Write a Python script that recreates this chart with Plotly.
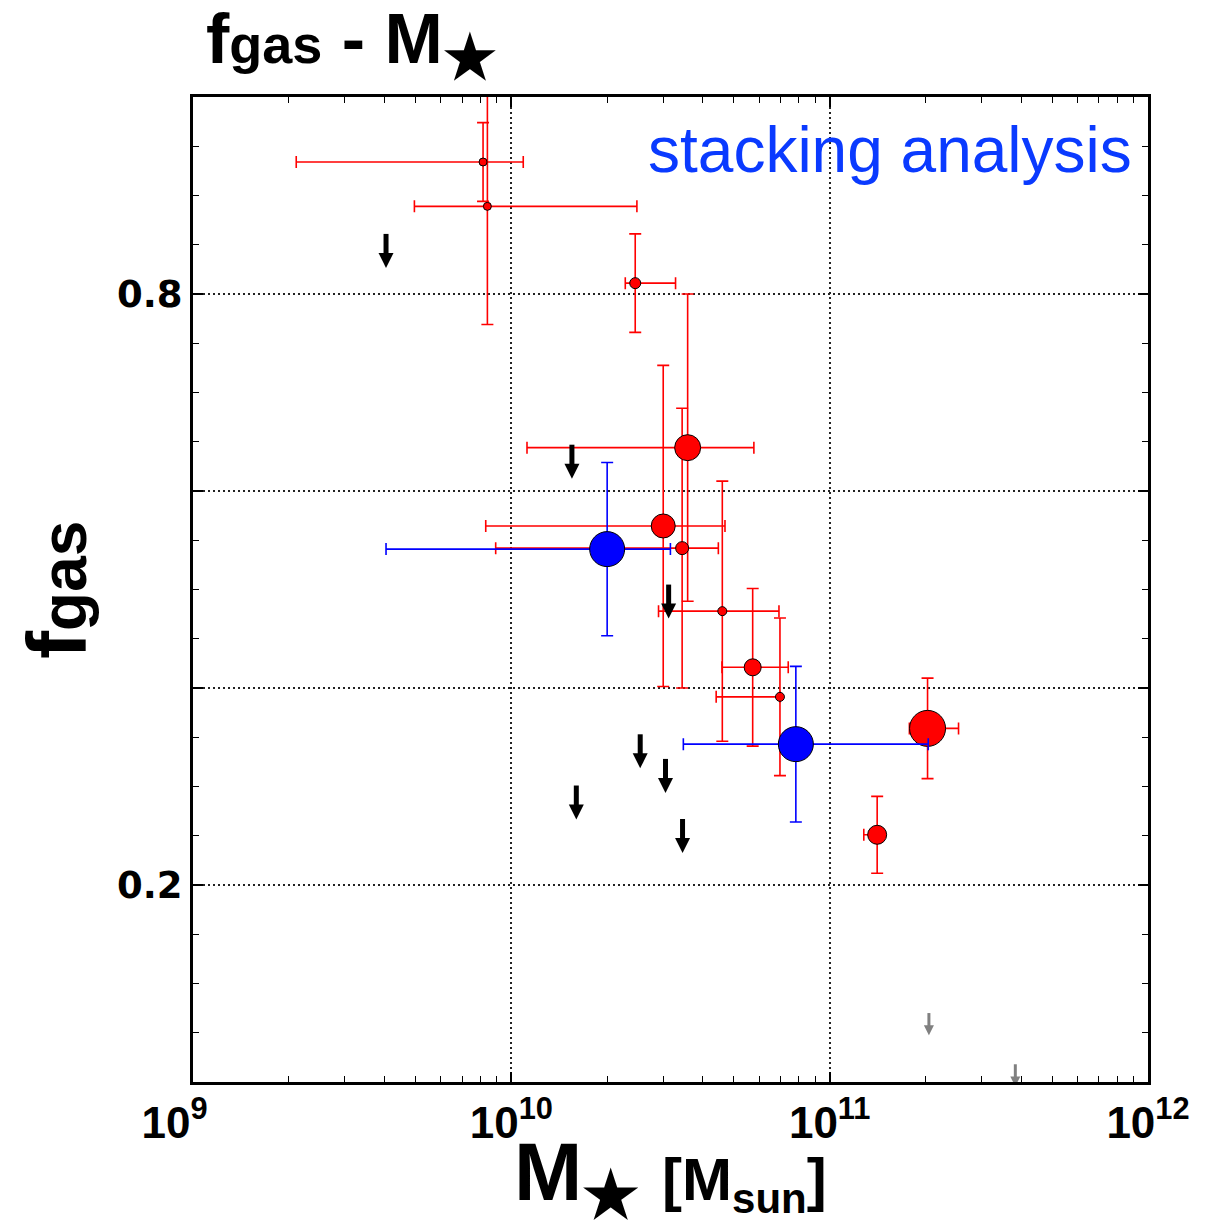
import plotly.graph_objects as go

# ---------------- data ----------------
# red: individual detections
red_mass = [8.15e9, 8.41e9, 2.45e10, 3.58e10, 3.00e10, 3.44e10, 4.60e10, 5.73e10, 6.98e10, 2.03e11, 1.41e11]
red_mass_lo = [2.11e9, 4.96e9, 2.28e10, 1.12e10, 8.31e9, 8.93e9, 2.90e10, 4.59e10, 4.40e10, 1.78e11, 1.28e11]
red_mass_hi = [1.09e10, 2.48e10, 3.28e10, 5.78e10, 4.69e10, 4.47e10, 6.93e10, 7.41e10, 6.98e10, 2.54e11, 1.43e11]
red_fgas = [0.934, 0.889, 0.811, 0.644, 0.5645, 0.542, 0.478, 0.421, 0.391, 0.359, 0.251]
red_fgas_err = [0.040, 0.120, 0.050, 0.156, 0.163, 0.142, 0.132, 0.080, 0.080, 0.051, 0.039]
red_weight = [8, 8, 11, 26, 24, 13, 9, 17, 9, 36, 19]

# blue: stacking analysis
blue_mass = [2.0e10, 7.83e10]
blue_mass_lo = [4.04e9, 3.47e10]
blue_mass_hi = [3.16e10, 2.04e11]
blue_fgas = [0.541, 0.343]
blue_fgas_err = [0.088, 0.079]
blue_weight = [35, 35]

# upper limits
lim_mass = [4.04e9, 1.55e10, 3.12e10, 2.54e10, 3.05e10, 1.60e10, 3.45e10]
lim_fgas = [0.861, 0.647, 0.505, 0.353, 0.328, 0.301, 0.267]
grey_lim_mass = [2.05e11, 3.83e11]
grey_lim_fgas = [0.070, 0.018]

x_tickvals = [1e9, 1e10, 1e11, 1e12]
x_ticktext = ['10<sup>9</sup>&nbsp;&nbsp;&nbsp;', '10<sup>10</sup>', '10<sup>11</sup>', '10<sup>12</sup>']
y_tickvals = [0.2, 0.4, 0.6, 0.8]
y_ticktext = ['0.2', '', '', '0.8']

# ---------------- figure ----------------
TFONT = "Liberation Sans, Arial, sans-serif"
YFONT = "DejaVu Sans, sans-serif"

fig = go.Figure()

def add_points(mass, lo, hi, fgas, err, size, color):
    fig.add_trace(go.Scatter(
        x=mass, y=fgas, mode='markers',
        marker=dict(size=size, color=color, line=dict(color='black', width=1), opacity=1),
        error_x=dict(type='data', symmetric=False,
                     array=[h - m for h, m in zip(hi, mass)],
                     arrayminus=[m - l for m, l in zip(mass, lo)],
                     color=color, thickness=1.6, width=6),
        error_y=dict(type='data', array=err, color=color, thickness=1.6, width=6),
        showlegend=False, hoverinfo='skip'))

add_points(red_mass, red_mass_lo, red_mass_hi, red_fgas, red_fgas_err, red_weight, '#ff0000')
add_points(blue_mass, blue_mass_lo, blue_mass_hi, blue_fgas, blue_fgas_err, blue_weight, '#0000ff')

def add_arrows(mass, top, length, shaft_w, head, color):
    xs, ys = [], []
    tips = [t - length for t in top]
    for m, t, tip in zip(mass, top, tips):
        xs += [m, m, None]
        ys += [t, tip + head * 0.0008, None]
    fig.add_trace(go.Scatter(x=xs, y=ys, mode='lines',
                             line=dict(color=color, width=shaft_w),
                             showlegend=False, hoverinfo='skip'))
    fig.add_trace(go.Scatter(x=mass, y=tips, mode='markers',
                             marker=dict(symbol='arrow-down', size=head, color=color,
                                         line=dict(width=0)),
                             showlegend=False, hoverinfo='skip'))

add_arrows(lim_mass, lim_fgas, 0.0345, 5, 15, 'black')
add_arrows(grey_lim_mass, grey_lim_fgas, 0.0225, 3, 10, '#808080')

minor_x = [k * 10 ** e for e in (9, 10, 11) for k in range(2, 10)]

fig.update_xaxes(
    type='log', range=[9, 12],
    tickvals=x_tickvals, ticktext=x_ticktext,
    ticks='inside', ticklen=10, tickwidth=1.5, tickcolor='black',
    showline=True, linewidth=3, linecolor='black', mirror='allticks',
    showgrid=True, gridcolor='#222222', griddash='2px,3px', gridwidth=1.5,
    zeroline=False,
    tickfont=dict(family=TFONT, size=44, color='black', weight='bold'),
    minor=dict(tickvals=minor_x, ticks='inside', ticklen=6, tickwidth=1, tickcolor='black', showgrid=False),
)
fig.update_yaxes(
    range=[0, 1],
    tickvals=y_tickvals, ticktext=y_ticktext,
    ticks='inside', ticklen=10, tickwidth=1.5, tickcolor='black',
    showline=True, linewidth=3, linecolor='black', mirror='allticks',
    showgrid=True, gridcolor='#222222', griddash='2px,3px', gridwidth=1.5,
    zeroline=False,
    tickfont=dict(family=YFONT, size=37, color='black', weight='bold'),
    minor=dict(dtick=0.05, tick0=0, ticks='inside', ticklen=6, tickwidth=1, tickcolor='black', showgrid=False),
)

fig.update_layout(
    width=1225, height=1228,
    margin=dict(l=193, r=77, t=97, b=146),
    plot_bgcolor='white', paper_bgcolor='white',
    showlegend=False,
    annotations=[
        dict(text='<b>f<span style="font-size:54px">gas</span> - M<sub><span style="font-size:60px">★</span></sub></b>',
             xref='paper', yref='paper',
             x=0.012, y=1.052, xanchor='left', yanchor='middle', showarrow=False,
             font=dict(family=TFONT, size=70, color='black')),
        dict(text='<b>M<sub><span style="font-size:64px">★</span></sub> <span style="font-size:60px">[M<sub>sun</sub>]</span></b>',
             xref='paper', yref='paper', x=0.5005, y=-0.098, xanchor='center', yanchor='middle',
             showarrow=False, font=dict(family=TFONT, size=82, color='black')),
        dict(text='<b>f<span style="font-size:64px">gas</span></b>', xref='paper', yref='paper',
             x=-0.143, y=0.5, xanchor='center', yanchor='middle', textangle=-90, showarrow=False,
             font=dict(family=TFONT, size=84, color='black')),
        dict(text='stacking analysis', xref='paper', yref='paper', x=0.985, y=0.946,
             xanchor='right', yanchor='middle', showarrow=False,
             font=dict(family=TFONT, size=64, color='#0a3aff')),
    ],
)

fig.write_html("out.html")
